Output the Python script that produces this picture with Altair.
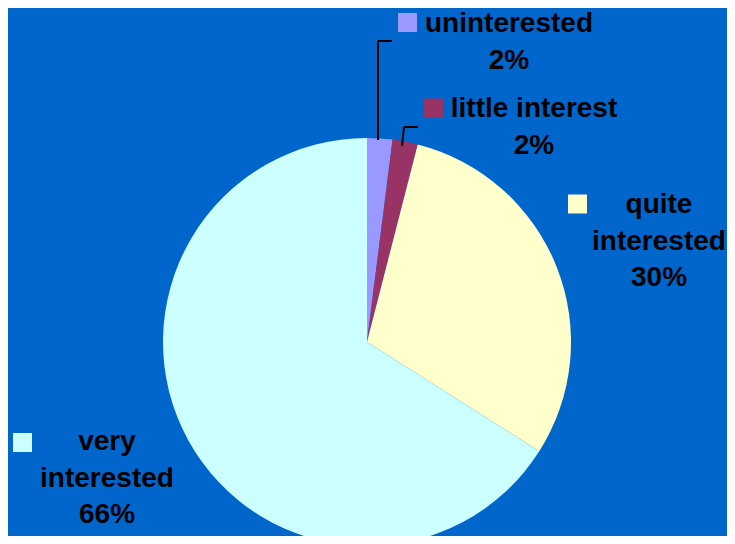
import altair as alt
import pandas as pd

# ---- data ----
categories = ["uninterested", "little interest", "quite interested", "very interested"]
values = [2, 2, 30, 66]
label_names = ["uninterested", "little interest", "quite\ninterested", "very\ninterested"]
colors = ["#9999FF", "#993366", "#FFFFCC", "#CCFFFF"]

# ---- layout (pixel positions of annotations) ----
W, H = 719, 528
CX, CY, R = 359, 334, 204
label_pos = [(501, 24), (526, 109), (651, 205), (99, 442)]
key_pos = [(399.5, 14.5), (425.5, 100), (569.5, 196), (14.5, 434.5)]
leader_segments = [
    (370, 132, 370, 33), (370, 33, 384, 33),
    (394, 138, 396, 119), (396, 119, 410, 119),
]

df = pd.DataFrame({"category": categories, "value": values, "order": list(range(len(categories)))})

color_scale = alt.Scale(domain=categories, range=colors)

pie = alt.Chart(df).mark_arc(outerRadius=R, stroke=None).encode(
    theta=alt.Theta("value:Q", stack=True),
    color=alt.Color("category:N", scale=color_scale, legend=None),
    order=alt.Order("order:Q"),
    x=alt.value(CX),
    y=alt.value(CY),
)

lab_df = pd.DataFrame({
    "category": categories,
    "text": [f"{n}\n{v}%" for n, v in zip(label_names, values)],
    "lx": [p[0] for p in label_pos],
    "ly": [p[1] for p in label_pos],
    "kx": [p[0] for p in key_pos],
    "ky": [p[1] for p in key_pos],
})

labels = alt.Chart(lab_df).mark_text(
    font="Liberation Sans", fontSize=28, fontWeight="bold", color="black",
    align="center", baseline="alphabetic", lineBreak="\n", lineHeight=36.5,
).encode(
    x=alt.X("lx:Q", scale=None, axis=None),
    y=alt.Y("ly:Q", scale=None, axis=None),
    text="text:N",
)

keys = alt.Chart(lab_df).mark_square(size=361, opacity=1, filled=True).encode(
    x=alt.X("kx:Q", scale=None, axis=None),
    y=alt.Y("ky:Q", scale=None, axis=None),
    color=alt.Color("category:N", scale=color_scale, legend=None),
)

seg_df = pd.DataFrame(leader_segments, columns=["x", "y", "x2", "y2"])
leaders = alt.Chart(seg_df).mark_rule(color="black", strokeWidth=2).encode(
    x=alt.X("x:Q", scale=None, axis=None),
    y=alt.Y("y:Q", scale=None, axis=None),
    x2="x2:Q",
    y2="y2:Q",
)

chart = alt.layer(pie, leaders, keys, labels).properties(
    width=W, height=H,
    autosize=alt.AutoSizeParams(type="none"),
    padding=0,
    background="#0066CC",
).configure_view(stroke=None)

chart.save("out.html", embed_options={"renderer": "svg", "actions": False})
